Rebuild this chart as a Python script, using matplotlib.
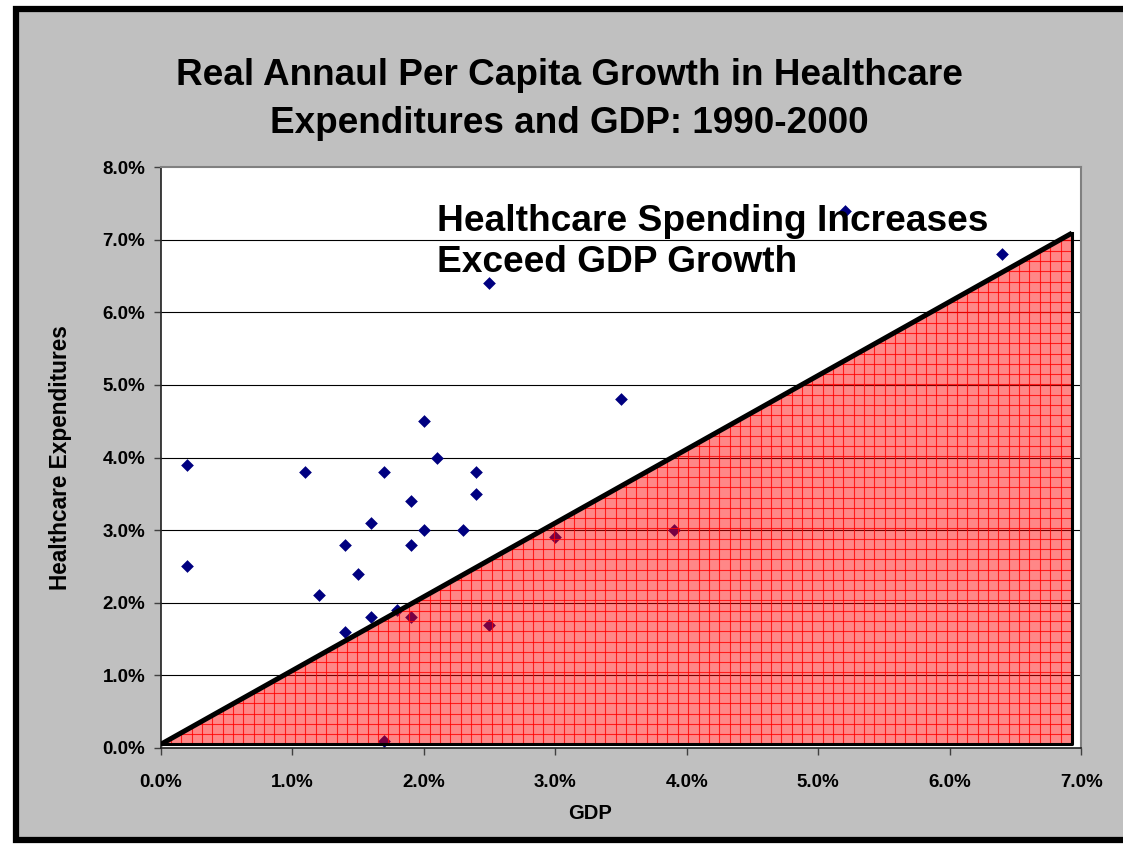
import numpy as np
import matplotlib
matplotlib.use("Agg")
import matplotlib.pyplot as plt
from matplotlib.patches import Polygon, Rectangle

plt.rcParams['font.family'] = ['Liberation Sans', 'DejaVu Sans']

# real annual per capita growth, % (GDP, healthcare expenditures)
gdp = [0.2, 0.2, 1.1, 1.2, 1.4, 1.4, 1.5, 1.6, 1.6, 1.7, 1.7, 1.8, 1.9, 1.9,
       1.9, 2.0, 2.0, 2.1, 2.3, 2.4, 2.4, 2.5, 2.5, 3.0, 3.5, 3.9, 5.2, 6.4]
health = [3.9, 2.5, 3.8, 2.1, 2.8, 1.6, 2.4, 3.1, 1.8, 3.8, 0.1, 1.9, 3.4, 2.8,
          1.8, 4.5, 3.0, 4.0, 3.0, 3.8, 3.5, 6.4, 1.7, 2.9, 4.8, 3.0, 7.4, 6.8]

# shaded "health = gdp" region
tri_x = [0.0, 6.93, 6.93]
tri_y = [0.05, 7.09, 0.05]

xticks = np.arange(0, 8, 1)
yticks = np.arange(0, 9, 1)

W, H = 1123, 844
fig = plt.figure(figsize=(W / 100, H / 100), dpi=100)
fig.patch.set_facecolor('white')

# grey frame with black border (right edge cut off)
fig.patches.append(Rectangle((16 / W, 4 / H), 1.2, 831 / H, transform=fig.transFigure,
                             facecolor='#c0c0c0', edgecolor='black', lw=4.5, zorder=-10))

ax = fig.add_axes([160.7 / W, 1 - 748 / H, 920.5 / W, 581 / H])
ax.set_facecolor('white')
ax.set_xlim(0, 7)
ax.set_ylim(0, 8)

for y in yticks[1:-1]:
    ax.axhline(y, color='black', lw=0.8, zorder=0)

ax.scatter(gdp, health, marker='D', s=42, color='#000080', zorder=2, linewidths=0)

# red hatched triangle on top of the points
pts = list(zip(tri_x, tri_y))
fill = Polygon(pts, closed=True, facecolor=(1, 0, 0, 0.47), edgecolor='none', zorder=3)
ax.add_patch(fill)
clip = Polygon(pts, closed=True, facecolor='none', edgecolor='none')
ax.add_patch(clip)
for xv in np.arange(0.0, 7.0, 7 / 89):
    ln, = ax.plot([xv, xv], [0, 8], color='red', lw=0.8, alpha=0.8, zorder=3.5)
    ln.set_clip_path(clip)
for yv in np.arange(0.05, 8.0, 8 / 56.5):
    ln, = ax.plot([0, 7], [yv, yv], color='red', lw=0.8, alpha=0.8, zorder=3.5)
    ln.set_clip_path(clip)
ax.plot(tri_x[:2], tri_y[:2], color='black', lw=3.6, zorder=5, solid_capstyle='butt')
ax.plot([tri_x[1], tri_x[2], tri_x[0]], [tri_y[1], tri_y[2], tri_y[0]],
        color='black', lw=2.2, zorder=5)

ax.set_xticks(xticks)
ax.set_yticks(yticks)
ax.set_xticklabels([f'{v:.1f}%' for v in xticks])
ax.set_yticklabels([f'{v:.1f}%' for v in yticks])
ax.tick_params(direction='out', length=5, width=1, color='#404040', labelsize=13.5, pad=6)
for lab in ax.get_xticklabels() + ax.get_yticklabels():
    lab.set_fontweight('bold')
ax.tick_params(axis='x', pad=14)

for s in ['top', 'right']:
    ax.spines[s].set_color('#808080')
    ax.spines[s].set_linewidth(1.5)
for s in ['left', 'bottom']:
    ax.spines[s].set_color('#202020')
    ax.spines[s].set_linewidth(1.2)

ax.set_xlabel('GDP', fontsize=14.5, fontweight='bold', labelpad=8)
ax.xaxis.set_label_coords((590 - 160.7) / 920.5, -0.096)
ax.set_ylabel('Healthcare Expenditures', fontsize=16.3, fontweight='bold', labelpad=22)

fig.text(569 / W, 1 - 85 / H, 'Real Annaul Per Capita Growth in Healthcare',
         ha='center', va='baseline', fontsize=26.6, fontweight='bold')
fig.text(569 / W, 1 - 133 / H, 'Expenditures and GDP: 1990-2000',
         ha='center', va='baseline', fontsize=26.6, fontweight='bold')

fig.text(437 / W, 1 - 231 / H, 'Healthcare Spending Increases',
         ha='left', va='baseline', fontsize=26.7, fontweight='bold', zorder=10)
fig.text(437 / W, 1 - 272 / H, 'Exceed GDP Growth',
         ha='left', va='baseline', fontsize=26.7, fontweight='bold', zorder=10)

fig.savefig('out.png', dpi=100, facecolor=fig.get_facecolor())
